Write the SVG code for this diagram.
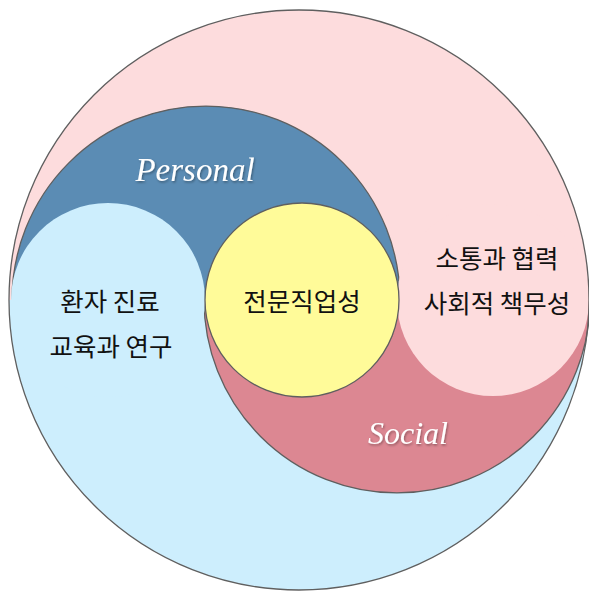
<svg xmlns="http://www.w3.org/2000/svg" width="589" height="596" viewBox="0 0 589 596">
<defs>
<style>
.edge{fill:none;stroke:#5f5f5f;stroke-width:1.3}
.ko{font-family:"Noto Sans CJK KR","Noto Sans",sans-serif;font-size:25.5px;fill:#111;text-anchor:middle}
.en{font-family:"Liberation Serif",serif;font-style:italic;fill:#fff;text-anchor:middle}
</style>
<filter id="sh" x="-20%" y="-20%" width="140%" height="140%">
<feDropShadow dx="1" dy="1.5" stdDeviation="1.2" flood-color="#000" flood-opacity="0.35"/>
</filter>
</defs>
<rect width="589" height="596" fill="#fff"/>
<g id="outer">
<circle cx="299" cy="300" r="290" fill="#cdeefd"/>
<path d="M9,300 A290,290 0 0 1 589,300 Z" fill="#fddcdd"/>
</g>
<g id="personal">
<path d="M12,300 A194,194 0 0 1 400,300 Z" fill="#5b8cb4"/>
<path class="edge" d="M12,300 A194,194 0 0 1 400,300"/>
<text class="en" x="195" y="181" font-size="33" filter="url(#sh)">Personal</text>
</g>
<g id="social">
<path d="M204,300 A193,193 0 0 0 590,300 Z" fill="#dc8792"/>
<path class="edge" d="M204,300 A193,193 0 0 0 590,300"/>
<text class="en" x="408" y="444" font-size="32" filter="url(#sh)">Social</text>
</g>
<g id="care">
<circle cx="108" cy="300" r="97" fill="#cdeefd"/>
<text class="ko" x="110" y="311">환자 진료</text>
<text class="ko" x="111" y="356">교육과 연구</text>
</g>
<g id="communication">
<circle cx="493" cy="300" r="96" fill="#fddcdd"/>
<text class="ko" x="497" y="268">소통과 협력</text>
<text class="ko" x="497" y="313">사회적 책무성</text>
</g>
<g id="professionalism">
<circle cx="302" cy="300" r="97" fill="#fffb99" stroke="#5f5f5f" stroke-width="1.3"/>
<text class="ko" x="302" y="311">전문직업성</text>
</g>
<circle class="edge" cx="299" cy="300" r="290"/>
</svg>
